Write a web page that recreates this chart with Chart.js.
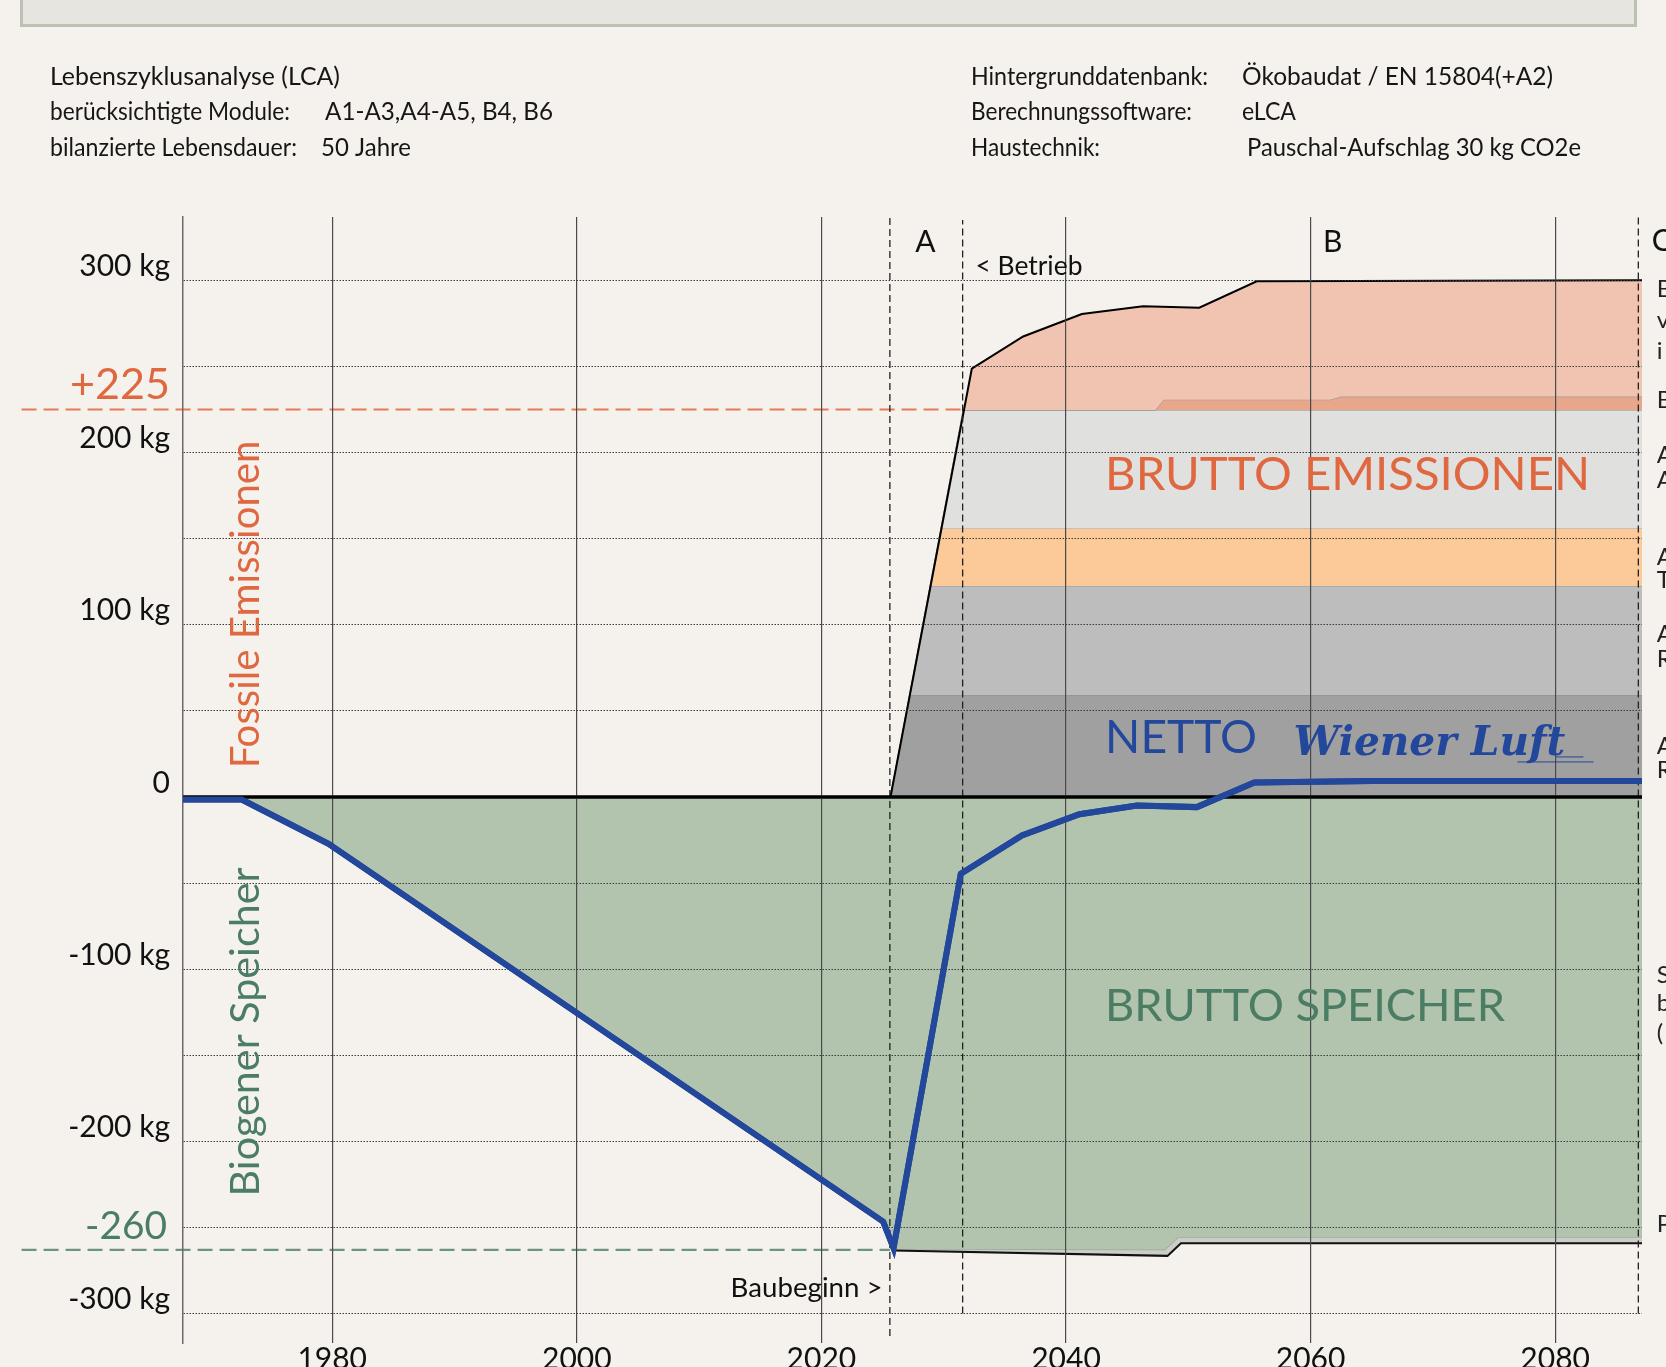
<!DOCTYPE html>
<html lang="de">
<head>
  <meta charset="UTF-8" />
  <title>Lebenszyklusanalyse – Bilanz</title>
  <script src="https://cdn.jsdelivr.net/npm/chart.js"></script>
  <style>
    html, body { margin: 0; padding: 0; background: #f5f2ee; overflow: hidden; }
    .page { position: relative; width: 1666px; height: 1367px; overflow: hidden; }
    .titlebox {
      position: absolute; left: 20px; top: -20px; width: 1611px; height: 41px;
      background: #e6e5e0; border: 3px solid #bcc1b2;
    }
    #lcaChart { position: absolute; left: 0; top: 0; }
  </style>
</head>
<body>
  <div class="page">
    <div class="titlebox"></div>
    <canvas id="lcaChart" width="1666" height="1420"></canvas>
  </div>

  <script>
    // axis range (years / kg CO2e)
    const X_MIN = 1967.8, X_MAX = 2087.1;
    const Y_MIN = -317.1, Y_MAX = 336.8;

    // tick values
    const xTicks = [1980, 2000, 2020, 2040, 2060, 2080];
    const yTicks = [-300, -250, -200, -150, -100, -50, 0, 50, 100, 150, 200, 250, 300];
    const yLabelled = [-300, -200, -100, 0, 100, 200, 300];

    // net balance (blue line)
    const netYears  = [1967.8, 1972.6, 1979.7, 2025.05, 2025.9, 2031.4, 2036.4, 2041.1, 2045.8, 2050.7, 2055.4, 2065.0, 2087.1];
    const netValues = [-1.5, -1.5, -27.2, -246.6, -262.0, -44.6, -22.4, -10.0, -5.0, -5.9, 8.4, 9.2, 9.2];

    // biogenic storage: upper edge of the thin grey band, and its black lower edge
    const storeYears  = [1967.8, 1972.6, 1979.7, 2025.05, 2025.9, 2048.1, 2049.2, 2087.1];
    const storeValues = [-1.5, -1.5, -27.2, -246.6, -263.0, -263.3, -255.9, -255.9];
    const endYears  = [2025.9, 2048.3, 2049.4, 2087.1];
    const endValues = [-263.4, -266.5, -259.2, -259.2];

    // fossil emission layers (cumulative tops)
    const darkGreyYears  = [2025.65, 2027.25, 2087.1];
    const darkGreyValues = [0, 59, 59];
    const midGreyYears   = [2025.65, 2028.95, 2087.1];
    const midGreyValues  = [0, 122.5, 122.5];
    const orangeYears    = [2025.65, 2029.83, 2087.1];
    const orangeValues   = [0, 155.9, 155.9];
    const lightGreyYears  = [2025.65, 2031.6, 2087.1];
    const lightGreyValues = [0, 224.7, 224.7];
    const stripYears  = [2025.65, 2031.6, 2047.3, 2048.0, 2061.6, 2062.5, 2087.1];
    const stripValues = [0, 224.7, 224.7, 230.7, 230.7, 232.5, 232.5];
    const totalYears  = [2025.65, 2032.3, 2036.5, 2041.3, 2046.3, 2050.9, 2055.6, 2087.1];
    const totalValues = [0, 248.7, 267.4, 280.5, 285.0, 284.1, 299.5, 300];

    // phase borders (dashed verticals): year, lower end, upper end
    const phaseYears = [2025.6, 2031.55, 2086.8];
    const phaseLow   = [-313, -300, -300];
    const phaseHigh  = [336.8, 335, 336.8];

    // reference levels (+225 / -260 markers)
    const refValues = [225, -263];
    const refFrom   = [1954.6, 1954.6];
    const refTo     = [2031.55, 2025.6];

    const ORANGE = "#df6841", GREEN = "#4b7c64", BLUE = "#23479a";
    const FONT = "Lato, 'Noto Sans', sans-serif";

    const pts = (xs, ys) => xs.map((x, i) => ({ x: x, y: ys[i] }));

    function area(label, xs, ys, fill, bg, border, order) {
      return {
        label, data: pts(xs, ys), fill, backgroundColor: bg,
        borderColor: border, borderWidth: 1.2, pointRadius: 0, order
      };
    }

    const datasets = [];
    // 0 net line
    datasets.push({ label: "Netto", data: pts(netYears, netValues), borderColor: BLUE,
      borderWidth: 6, pointRadius: 0, fill: false, order: 0, clip: false });
    // 1 zero line
    datasets.push({ label: "Null", data: pts([X_MIN, X_MAX], [0, 0]), borderColor: "#000",
      borderWidth: 3, pointRadius: 0, fill: false, order: 1, clip: false });
    // phase borders
    phaseYears.forEach((yr, i) => datasets.push({
      label: "Phase", data: pts([yr, yr], [phaseLow[i], phaseHigh[i]]), borderColor: "#222",
      borderWidth: 1.3, borderDash: [7, 4], pointRadius: 0, fill: false, order: 2, clip: false
    }));
    // reference levels
    refValues.forEach((v, i) => datasets.push({
      label: "Ref", data: pts([refFrom[i], refTo[i]], [v, v]),
      borderColor: v > 0 ? "#e47a56" : "#6e9480", borderWidth: 2.2, borderDash: [15, 7],
      pointRadius: 0, fill: false, order: 3, clip: false
    }));

    const iStore = datasets.length;
    datasets.push(area("Speicher", storeYears, storeValues, "origin", "#b2c4ad", "#8e948c", 12));
    datasets.push(area("Speicher Rest", endYears, endValues, iStore, "#cbcec7", "#111", 11));
    datasets[datasets.length - 1].borderWidth = 2;

    const iDark = datasets.length;
    datasets.push(area("A dunkel", darkGreyYears, darkGreyValues, "origin", "#a0a0a0", "#8a8a8a", 10));
    datasets.push(area("A mittel", midGreyYears, midGreyValues, iDark, "#bdbdbd", "#999", 9));
    datasets.push(area("A orange", orangeYears, orangeValues, iDark + 1, "#fbca98", "#a9a39a", 8));
    datasets.push(area("A hell", lightGreyYears, lightGreyValues, iDark + 2, "#e0e0df", "#a8a8a8", 7));
    datasets.push(area("B Streifen", stripYears, stripValues, iDark + 3, "#e8a68b", "#9a9a9a", 6));
    datasets.push(area("Summe", totalYears, totalValues, iDark + 4, "#f0c4b1", "#000", 5));
    datasets[datasets.length - 1].borderWidth = 2;

    // header block: x, baseline, width as printed
    const header = [
      { text: "Lebenszyklusanalyse (LCA)", x: 50, y: 85, w: 290 },
      { text: "berücksichtigte Module:", x: 50, y: 120, w: 240 },
      { text: "A1-A3,A4-A5, B4, B6", x: 325, y: 120, w: 228 },
      { text: "bilanzierte Lebensdauer:", x: 50, y: 156, w: 247 },
      { text: "50 Jahre", x: 321, y: 156, w: 90 },
      { text: "Hintergrunddatenbank:", x: 971, y: 85, w: 237 },
      { text: "Ökobaudat / EN 15804(+A2)", x: 1242, y: 85, w: 311 },
      { text: "Berechnungssoftware:", x: 971, y: 120, w: 221 },
      { text: "eLCA", x: 1242, y: 120, w: 54 },
      { text: "Haustechnik:", x: 971, y: 156, w: 129 },
      { text: "Pauschal-Aufschlag 30 kg CO2e", x: 1247, y: 156, w: 334 }
    ];

    // annotations placed in data space (x = year, y = kg)
    const notes = [
      { text: "A", x: 2028.5, y: 323, size: 30, align: "center" },
      { text: "B", x: 2061.8, y: 323, size: 30, align: "center" },
      { text: "C", x: 2087.9, y: 323.5, size: 30 },
      { text: "< Betrieb", x: 2032.6, y: 308.4, width: 107 },
      { text: "Baubeginn >", x: 2025.0, y: -285, width: 152, align: "right" },
      { text: "BRUTTO EMISSIONEN", x: 2043.2, y: 188, width: 485, color: ORANGE },
      { text: "NETTO", x: 2043.2, y: 35, width: 152, color: BLUE },
      { text: "BRUTTO SPEICHER", x: 2043.2, y: -120.8, width: 400, color: GREEN },
      { text: "+225", x: 1966.74, y: 240, width: 100, align: "right", color: ORANGE },
      { text: "-260", x: 1966.5, y: -248.5, width: 82, align: "right", color: GREEN },
      { text: "Fossile Emissionen", x: 1972.8, y: 111.8, width: 328, color: ORANGE, rotate: true },
      { text: "Biogener Speicher", x: 1972.8, y: -136.5, width: 329, color: GREEN, rotate: true }
    ];
    // cut-off legend column at the right edge
    const sideLetters = [
      ["B", 295], ["v", 277], ["i", 259], ["B", 230.5], ["A", 198.6], ["A", 184.1],
      ["A", 139.4], ["T", 126], ["A", 94.7], ["R", 80.1], ["A", 29.6], ["R", 15.7],
      ["S", -103.4], ["b", -119.6], ["(", -137], ["P", -248]
    ];

    function drawNote(ctx, n, px, py) {
      ctx.save();
      let size = n.size || 30;
      ctx.font = `400 ${size}px ${FONT}`;
      if (n.width) {
        size = size * n.width / ctx.measureText(n.text).width;
        ctx.font = `400 ${size}px ${FONT}`;
      }
      const capH = ctx.measureText("H").actualBoundingBoxAscent;
      ctx.fillStyle = n.color || "#111";
      ctx.textBaseline = "alphabetic";
      if (n.rotate) {
        ctx.translate(px, py);
        ctx.rotate(-Math.PI / 2);
        ctx.textAlign = "center";
        ctx.fillText(n.text, 0, capH / 2);
      } else {
        ctx.textAlign = n.align || "left";
        ctx.fillText(n.text, px, py + capH / 2);
      }
      ctx.restore();
    }

    const labelPlugin = {
      id: "lcaLabels",
      afterDraw(chart) {
        const { ctx, scales: { x, y } } = chart;

        // net + zero line back on top of the grid
        chart.getDatasetMeta(1).dataset.draw(ctx, chart.chartArea);
        chart.getDatasetMeta(0).dataset.draw(ctx, chart.chartArea);

        // header: same type size, squeezed to the printed width
        ctx.save();
        ctx.fillStyle = "#161616";
        ctx.font = `400 25px ${FONT}`;
        ctx.textBaseline = "alphabetic";
        header.forEach(h => {
          const k = h.w / ctx.measureText(h.text).width;
          ctx.save();
          ctx.translate(h.x, h.y);
          ctx.scale(k, 1);
          ctx.fillText(h.text, 0, 0);
          ctx.restore();
        });
        ctx.restore();

        notes.forEach(n => drawNote(ctx, n, x.getPixelForValue(n.x), y.getPixelForValue(n.y)));

        ctx.save();
        ctx.fillStyle = "#222";
        ctx.font = `400 24px ${FONT}`;
        ctx.textBaseline = "middle";
        sideLetters.forEach(([t, v]) => ctx.fillText(t, x.getPixelForValue(2088.3), y.getPixelForValue(v)));
        ctx.restore();

        // "Wiener Luft" logo lettering
        ctx.save();
        ctx.fillStyle = BLUE;
        ctx.font = `italic 700 40px 'DejaVu Serif', serif`;
        const s = 40 * 272 / ctx.measureText("Wiener Luft").width;
        ctx.font = `italic 700 ${s}px 'DejaVu Serif', serif`;
        const lx = x.getPixelForValue(2058.6), ly = y.getPixelForValue(24.4);
        ctx.fillText("Wiener Luft", lx, ly);
        ctx.strokeStyle = BLUE;
        ctx.lineWidth = 1;
        ctx.beginPath();
        ctx.moveTo(lx + 224, ly + 7); ctx.lineTo(lx + 300, ly + 7);
        ctx.moveTo(lx + 262, ly + 2); ctx.lineTo(lx + 290, ly + 2);
        ctx.stroke();
        ctx.restore();
      }
    };

    new Chart(document.getElementById("lcaChart"), {
      type: "line",
      data: { datasets },
      options: {
        responsive: false,
        animation: false,
        devicePixelRatio: 1,
        layout: { padding: { left: 0, top: 217, right: 24, bottom: 0 } },
        plugins: { legend: { display: false }, tooltip: { enabled: false } },
        elements: { line: { tension: 0 } },
        scales: {
          x: {
            type: "linear", min: X_MIN, max: X_MAX,
            afterFit: s => { s.height = 77; },
            afterBuildTicks: s => { s.ticks = xTicks.map(v => ({ value: v })); },
            grid: { z: 1, drawTicks: false, lineWidth: 1.2, color: "#4a4a4a" },
            border: { display: false },
            ticks: {
              autoSkip: false, maxRotation: 0, padding: 1, color: "#111",
              font: { family: FONT, size: 30, lineHeight: 1 },
              callback: v => String(v)
            }
          },
          y: {
            min: Y_MIN, max: Y_MAX,
            afterFit: s => { s.width = 183; },
            afterBuildTicks: s => { s.ticks = yTicks.map(v => ({ value: v })); },
            grid: {
              z: 1, drawTicks: false, lineWidth: 1,
              color: c => (c.tick && c.tick.value !== 0) ? "#3c3c3c" : "rgba(0,0,0,0)"
            },
            border: { display: true, color: "#6a6a6a", width: 1.5, dash: [1.5, 1.5], z: 1 },
            ticks: {
              padding: 13, labelOffset: -14, color: "#111",
              font: { family: FONT, size: 30 },
              callback: v => (v === 0 ? "0" : (yLabelled.includes(v) ? v + " kg" : ""))
            }
          }
        }
      },
      plugins: [labelPlugin]
    });
  </script>
</body>
</html>
